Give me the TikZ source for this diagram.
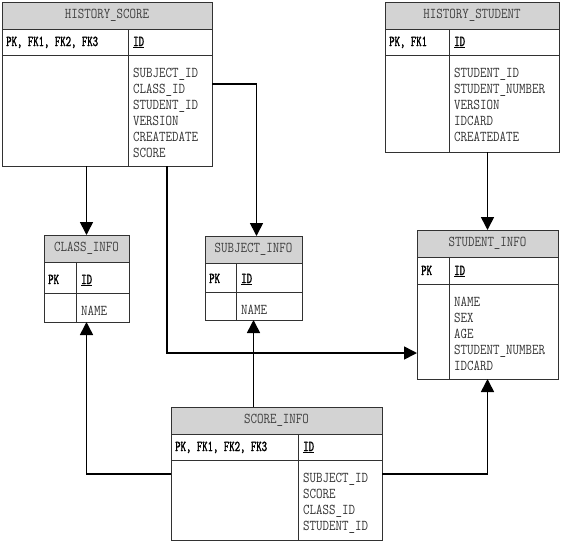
\documentclass[tikz,border=0pt]{standalone}
\usepackage{fontspec}
\usetikzlibrary{arrows.meta}
\newfontfamily\erfont[FakeStretch=0.84]{Latin Modern Mono}
\newfontfamily\erkeyfont[FakeStretch=0.7,FakeBold=1.6]{Latin Modern Mono}
\definecolor{hdrGray}{RGB}{211,211,211}
\definecolor{lineGray}{RGB}{50,50,50}

% name, corner, width, height, divider, key row bottom, title, keys, attributes
\newcommand{\entity}[9]{%
  \node[entity, minimum width=#3pt, minimum height=#4pt] (#1) at #2 {};
  \fill[hdrGray] (#1.north west) rectangle ([shift={(0,27)}]#1.north east);
  \draw[tline] (#1.north west) rectangle (#1.south east);
  \draw[tline] ([shift={(0,27)}]#1.north west) -- ([shift={(0,27)}]#1.north east);
  \draw[tline] ([shift={(0,#6)}]#1.north west) -- ([shift={(0,#6)}]#1.north east);
  \draw[tline] ([shift={(#5,27)}]#1.north west) -- ([shift={(#5,0)}]#1.south west);
  \node[ttitle] (#1-title) at ([shift={(0,13.5)}]#1.north) {#7};
  \node[tkey] (#1-keys) at ([shift={(4,#6-9)}]#1.north west) {#8};
  \node[tkey] (#1-id) at ([shift={(#5+5,#6-9)}]#1.north west) {\underline{ID}};
  \foreach \a [count=\i] in {#9}
    \node[tattr] (#1-a\i) at ([shift={(#5+5,#6+22+16*\i-16)}]#1.north west) {\a};
}

\begin{document}
\begin{tikzpicture}[x=1pt, y=-1pt,
    entity/.style={rectangle, inner sep=0pt, outer sep=0pt, anchor=north west},
    tline/.style={lineGray, line width=1pt},
    ttitle/.style={inner sep=0pt, text=black!75, font=\erfont\fontsize{15}{16}\selectfont},
    tkey/.style={inner sep=0pt, anchor=base west, font=\erkeyfont\fontsize{15}{16}\selectfont},
    tattr/.style={inner sep=0pt, anchor=base west, text=black!80, font=\erfont\fontsize{15}{16}\selectfont},
    fk/.style={line width=1.6pt, -{Triangle[length=13pt,width=13pt]}}]
    \useasboundingbox (0,0) rectangle (561,542);

    % history tables
    \entity{hscore}{(2,2)}{210}{164}{126}{53}{HISTORY\_SCORE}{PK, FK1, FK2, FK3}%
        {SUBJECT\_ID,CLASS\_ID,STUDENT\_ID,VERSION,CREATEDATE,SCORE}
    \entity{hstud}{(385,2)}{174}{150}{64}{53}{HISTORY\_STUDENT}{PK, FK1}%
        {STUDENT\_ID,STUDENT\_NUMBER,VERSION,IDCARD,CREATEDATE}

    % info tables
    \entity{cls}{(44,235)}{85}{87}{32}{58}{CLASS\_INFO}{PK}{NAME}
    \entity{subj}{(205,236)}{97}{84}{31}{56}{SUBJECT\_INFO}{PK}{NAME}
    \entity{stud}{(417,230)}{141}{149}{32}{54}{STUDENT\_INFO}{PK}%
        {NAME,SEX,AGE,STUDENT\_NUMBER,IDCARD}
    \entity{score}{(171,407)}{211}{133}{127}{53}{SCORE\_INFO}{PK, FK1, FK2, FK3}%
        {SUBJECT\_ID,SCORE,CLASS\_ID,STUDENT\_ID}

    % references
    \draw[fk] (hscore.south -| cls.north) -- (cls.north);
    \draw[fk] ([shift={(0,82)}]hscore.north east) -| ([shift={(3,0)}]subj.north);
    \draw[fk] ([shift={(165,0)}]hscore.south west) |- ([shift={(0,123)}]stud.north west);
    \draw[fk] (hstud.south -| stud.north) -- (stud.north);
    \draw[fk] ([shift={(0,67)}]score.north west) -| (cls.south);
    \draw[fk] (score.north -| subj.south) -- (subj.south);
    \draw[fk] ([shift={(0,67)}]score.north east) -| (stud.south);
\end{tikzpicture}
\end{document}
